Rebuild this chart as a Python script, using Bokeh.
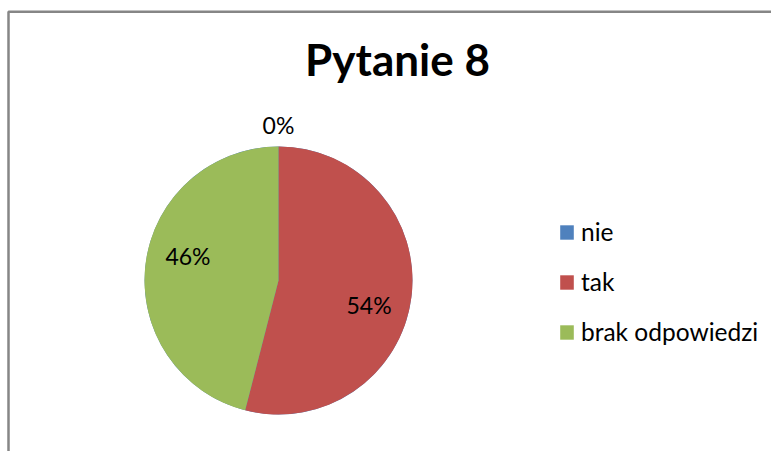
import math
from bokeh.plotting import figure
from bokeh.models import Range1d, Label, Legend, LegendItem, ColumnDataSource
from bokeh.embed import file_html
from bokeh.resources import INLINE
from bokeh.core.properties import value

# ---- data ----
categories = ["nie", "tak", "brak odpowiedzi"]
percent = [0, 54, 46]
colors = ["#4F81BD", "#C0504D", "#9BBB59"]
title_text = "Pytanie 8"

FONT = "Lato"
W, H = 771, 451
p = figure(width=W, height=H, x_range=Range1d(0, W), y_range=Range1d(0, H),
           output_backend="svg", toolbar_location=None, min_border=0)
p.axis.visible = False
p.grid.visible = False
p.outline_line_color = None
p.background_fill_color = "white"
p.border_fill_color = "white"

# chart border (left + top, the rest is cropped in the original)
p.line([8, 8, W], [0, 439.75, 439.75], line_color="#868686", line_width=2.5)

cx, cy, r = 278, 171, 134
INSIDE_SHIFT = math.radians(-8)   # "best fit" label placement nudge
total = float(sum(percent))
starts, ends, lx, ly, labels = [], [], [], [], []
cum = 0.0
for v in percent:
    a0 = math.pi / 2 - 2 * math.pi * cum / total
    cum += v
    a1 = math.pi / 2 - 2 * math.pi * cum / total
    starts.append(a0)
    ends.append(a1)
    m = (a0 + a1) / 2
    if v > 0:
        rr, m = r * 0.7, m + INSIDE_SHIFT
    else:
        rr = r * 1.157
    lx.append(cx + rr * math.cos(m))
    ly.append(cy + rr * math.sin(m))
    labels.append(f"{v:.0f}%")

src = ColumnDataSource(dict(cat=categories, start=starts, end=ends, color=colors,
                            x=[cx] * len(categories), y=[cy] * len(categories)))
wr = p.wedge(x="x", y="y", radius=r, start_angle="start", end_angle="end",
             direction="clock", fill_color="color", line_color=None, source=src)

lsrc = ColumnDataSource(dict(x=lx, y=ly, t=labels))
p.text(x="x", y="y", text="t", source=lsrc, text_align="center",
       text_baseline="middle", text_font=value(FONT), text_font_size="23px",
       text_color="black")

p.add_layout(Label(x=397, y=393, text=title_text, text_align="center",
                   text_baseline="alphabetic", text_font=FONT,
                   text_font_size="44px", text_font_style="bold",
                   text_color="black"))

legend = Legend(items=[LegendItem(label=c, renderers=[wr], index=i)
                       for i, c in enumerate(categories)],
                location=(558, 105), orientation="vertical")
legend.glyph_width = 17
legend.glyph_height = 18
legend.label_standoff = 6
legend.label_text_font = FONT
legend.label_text_font_size = "24.5px"
legend.label_text_color = "black"
legend.padding = 0
legend.margin = 0
legend.spacing = 21
legend.border_line_color = None
legend.background_fill_alpha = 0
p.add_layout(legend)

open("out.html", "w").write(file_html(p, INLINE))
